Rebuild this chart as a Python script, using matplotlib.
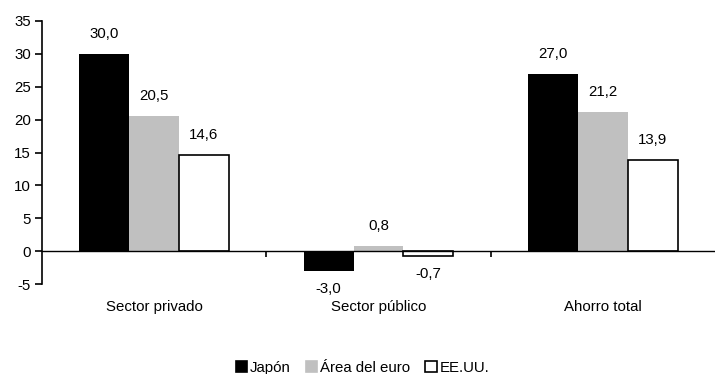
import matplotlib
matplotlib.use("Agg")
import matplotlib.pyplot as plt
import numpy as np

plt.rcParams['font.family'] = ['Liberation Sans', 'DejaVu Sans']

categories = ["Sector privado", "Sector público", "Ahorro total"]
series_names = ["Japón", "Área del euro", "EE.UU."]
japon = [30.0, -3.0, 27.0]
euro = [20.5, 0.8, 21.2]
eeuu = [14.6, -0.7, 13.9]
y_ticks = [-5, 0, 5, 10, 15, 20, 25, 30, 35]

series = [japon, euro, eeuu]
faces = ["#000000", "#C0C0C0", "#FFFFFF"]
edges = ["#000000", "#C0C0C0", "#000000"]
FS = 10.8

fig = plt.figure(figsize=(7.15, 3.74), dpi=100)
# plot area: y=35 at 21px from top, y=-5 at 284px
ax = fig.add_axes([0.0587, 1 - 284 / 374, 0.9413, (284 - 21) / 374])

x = np.arange(len(categories))
width = 0.222
ymin, ymax = -5, 35

for i, (vals, fc, ec) in enumerate(zip(series, faces, edges)):
    pos = x + (i - 1) * width
    ax.bar(pos, vals, width=width, color=fc, edgecolor=ec,
           linewidth=1.2 if fc == "#FFFFFF" else 0.0, label=series_names[i], zorder=3)
    for px, v in zip(pos, vals):
        txt = f"{v:.1f}".replace(".", ",")
        ty = v + 3.05 if v >= 0 else v - 2.75
        ax.text(px, ty, txt, ha="center", va="center", fontsize=FS, clip_on=False)

ax.set_xlim(-0.5, 2.5)
ax.set_ylim(ymin, ymax)
ax.set_yticks(y_ticks)
ax.set_yticklabels([str(t) for t in y_ticks], fontsize=FS)

ax.spines['top'].set_visible(False)
ax.spines['right'].set_visible(False)
ax.spines['left'].set_linewidth(1.2)
ax.spines['bottom'].set_position(('data', 0))
ax.spines['bottom'].set_linewidth(1.0)
ax.spines['bottom'].set_zorder(4)
ax.tick_params(axis='y', direction='out', length=5, width=1.2, pad=3)

# category separators as ticks on the zero line; names set below the plot area
ax.set_xticks([0.5, 1.5])
ax.set_xticklabels([])
ax.tick_params(axis='x', direction='out', length=4, width=1.2)
for xi, name in zip(x, categories):
    ax.text(xi, -8.5, name, ha="center", va="center", fontsize=FS, clip_on=False)

handles = [plt.Rectangle((0, 0), 1, 1, facecolor=fc,
                         edgecolor=("#000000" if fc == "#FFFFFF" else fc), linewidth=1.2)
           for fc in faces]
fig.legend(handles, series_names, loc="center", bbox_to_anchor=(0.507, 0.016), ncol=3,
           frameon=False, fontsize=FS, handlelength=0.75, handleheight=0.75,
           handletextpad=0.2, columnspacing=1.0, borderpad=0)

fig.savefig("out.png", dpi=100)
